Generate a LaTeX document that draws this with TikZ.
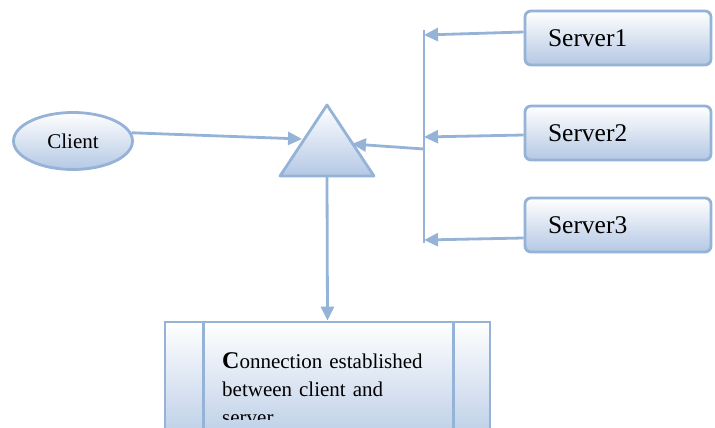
\documentclass[tikz,border=0pt]{standalone}
\usepackage{fontspec}
\setmainfont{Liberation Serif}
\usetikzlibrary{shapes.geometric,arrows.meta}
\definecolor{edge}{RGB}{149,179,215}
\definecolor{fillblue}{RGB}{180,200,228}

\begin{document}
\begin{tikzpicture}[x=1pt,y=-1pt,
	shade box/.style={draw=edge,line width=2.8pt,top color=white,bottom color=fillblue},
	link/.style={draw=edge,line width=2.8pt,-{Triangle[length=14pt,width=13pt]}},
	server/.style={shade box,rounded corners=6pt,minimum width=186pt,minimum height=54pt,text width=140pt,align=left,font=\fontsize{25.5}{28}\selectfont}]
	\path[use as bounding box,clip] (0,0) rectangle (715,428);
	\node[ellipse,shade box,minimum width=119pt,minimum height=57pt,font=\fontsize{21}{24}\selectfont] (client) at (73,141) {Client};
	\draw[shade box,line join=round] (280,176) -- (327,105) -- (374,176) -- cycle;
	\coordinate (tri west) at (302,139);
	\coordinate (tri east) at (352,144);
	\coordinate (tri south) at (327,176);
	\node[server] (server1) at (618,38) {Server1};
	\node[server] (server2) at (618,133) {Server2};
	\node[server] (server3) at (618,225) {Server3};
	\coordinate (bus top) at (424,30);
	\coordinate (bus bot) at (424,243);
	\coordinate (bus mid) at (424,149);
	\coordinate (in1) at (424,35);
	\coordinate (in2) at (424,137);
	\coordinate (in3) at (424,240);
	\draw[draw=edge,line width=2.8pt] (bus top) -- (bus bot);
	\draw[link] ([yshift=6pt]server1.west) -- (in1);
	\draw[link] ([yshift=-2pt]server2.west) -- (in2);
	\draw[link] ([yshift=-13pt]server3.west) -- (in3);
	\draw[link] (bus mid) -- (tri east);
	\draw[link] (client.8) -- (tri west);
	\node[shade box,minimum width=325pt,minimum height=130pt] (conn) at (327.5,387) {};
	\draw[draw=edge,line width=2.8pt] ([xshift=40pt]conn.north west) -- ([xshift=40pt]conn.south west);
	\draw[draw=edge,line width=2.8pt] ([xshift=-38pt]conn.north east) -- ([xshift=-38pt]conn.south east);
	\draw[link] (tri south) -- (conn.north);
	\begin{scope}
		\clip (210,330) rectangle (450,419);
		\node[anchor=north west,text width=210pt,align=left,inner sep=0pt,font=\fontsize{21}{28}\selectfont] (msg) at (222,352) {{\fontsize{24}{28}\selectfont\bfseries C}onnection established between client and server};
	\end{scope}
\end{tikzpicture}
\end{document}
